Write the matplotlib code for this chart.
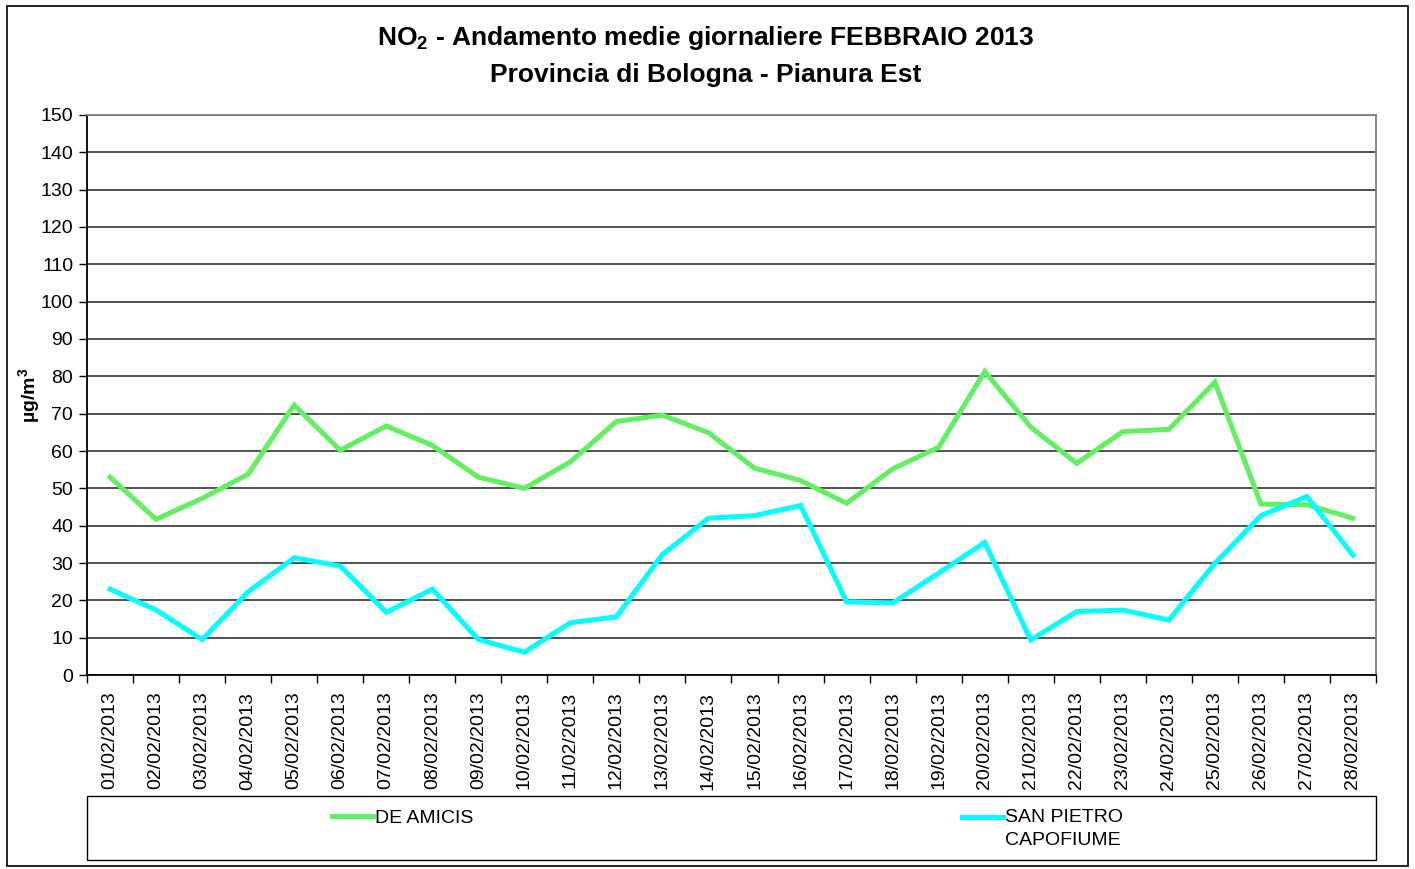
import numpy as np
import matplotlib
matplotlib.use("Agg")
import matplotlib.pyplot as plt
from matplotlib.patches import Rectangle
from matplotlib.legend_handler import HandlerLine2D

plt.rcParams['font.family'] = ['Liberation Sans', 'DejaVu Sans']
plt.rcParams['mathtext.fontset'] = 'custom'
plt.rcParams['mathtext.rm'] = 'Liberation Sans'
plt.rcParams['mathtext.bf'] = 'Liberation Sans:bold'

# --- data (daily NO2 means, µg/m3) ---
days = [f"{d:02d}/02/2013" for d in range(1, 29)]
de_amicis = [53.0, 41.7, 47.3, 53.8, 72.3, 60.2, 66.7, 61.5, 53.0, 50.0,
             57.1, 67.9, 69.6, 64.9, 55.4, 52.1, 46.0, 55.2, 61.0, 81.3,
             66.4, 56.7, 65.2, 65.8, 78.4, 45.8, 45.6, 42.0]
san_pietro = [23.0, 17.4, 9.5, 22.3, 31.4, 29.2, 16.8, 23.0, 9.5, 6.1,
              14.0, 15.6, 32.3, 42.0, 42.7, 45.4, 19.6, 19.3, 27.3, 35.5,
              9.4, 17.0, 17.4, 14.7, 29.9, 42.7, 47.8, 32.1]
series_names = ["DE AMICIS", "SAN PIETRO\nCAPOFIUME"]
series_colors = ["#62F062", "#00FFFF"]


class TopLine(HandlerLine2D):
    # put the legend line next to the first text row, like the original
    def create_artists(self, legend, orig_handle, xdescent, ydescent,
                       width, height, fontsize, trans):
        return super().create_artists(legend, orig_handle, xdescent,
                                      ydescent - 1.25 * fontsize, width, height,
                                      fontsize, trans)


fig = plt.figure(figsize=(14.15, 8.69), dpi=100)
fig.patches.append(Rectangle((0.005, 0.003), 0.99, 0.99, transform=fig.transFigure,
                             fill=False, edgecolor='black', linewidth=1.2))
ax = fig.add_axes([0.0615, 0.2232, 0.9109, 0.6445])

x = np.arange(len(days))
l1, = ax.plot(x, de_amicis, color=series_colors[0], linewidth=3.6, solid_joinstyle='miter')
l2, = ax.plot(x, san_pietro, color=series_colors[1], linewidth=3.6, solid_joinstyle='miter')

ax.set_xlim(-0.5, len(days) - 0.5)
ax.set_ylim(0, 150)
ax.set_yticks(np.arange(0, 151, 10))
ax.set_xticks(x)
ax.set_xticklabels(days, rotation=90, fontsize=14)
ax.set_xticks(np.arange(-0.5, len(days), 1), minor=True)
ax.tick_params(axis='x', which='major', length=0, pad=12)
ax.tick_params(axis='x', which='minor', length=6, width=1, direction='out')
ax.tick_params(axis='y', labelsize=14, length=6, width=1, direction='out', pad=4)
ax.yaxis.grid(True, color='#333333', linewidth=1.2)
ax.set_axisbelow(True)
for s in ['left', 'bottom']:
    ax.spines[s].set_color('black')
    ax.spines[s].set_linewidth(1.3)
for s in ['top', 'right']:
    ax.spines[s].set_color('#808080')
    ax.spines[s].set_linewidth(1.3)

ax.set_ylabel(r'µg/m$^{\mathbf{3}}$', fontsize=14, fontweight='bold', labelpad=-2)

fig.text(0.499, 0.956, r'NO$_{\mathbf{2}}$ - Andamento medie giornaliere FEBBRAIO 2013',
         ha='center', va='center', fontsize=19, fontweight='bold')
fig.text(0.499, 0.914, 'Provincia di Bologna - Pianura Est',
         ha='center', va='center', fontsize=19, fontweight='bold')

# legend box below the axis labels
ax.add_patch(Rectangle((0, -0.330), 1, 0.114, transform=ax.transAxes, fill=False,
                       edgecolor='black', linewidth=1.0, clip_on=False))
leg1 = ax.legend([l1], [series_names[0]], loc='upper center', bbox_to_anchor=(0.245, -0.226),
                 frameon=False, fontsize=14, handlelength=2.1, handletextpad=0.1,
                 borderaxespad=0)
ax.add_artist(leg1)
leg2 = ax.legend([l2], [series_names[1]], loc='upper center', bbox_to_anchor=(0.741, -0.226),
                 frameon=False, fontsize=14, handlelength=2.1, handletextpad=0.1,
                 borderaxespad=0, handler_map={l2: TopLine()})
leg2.get_texts()[0].set_linespacing(1.45)

fig.savefig('out.png', dpi=100)
